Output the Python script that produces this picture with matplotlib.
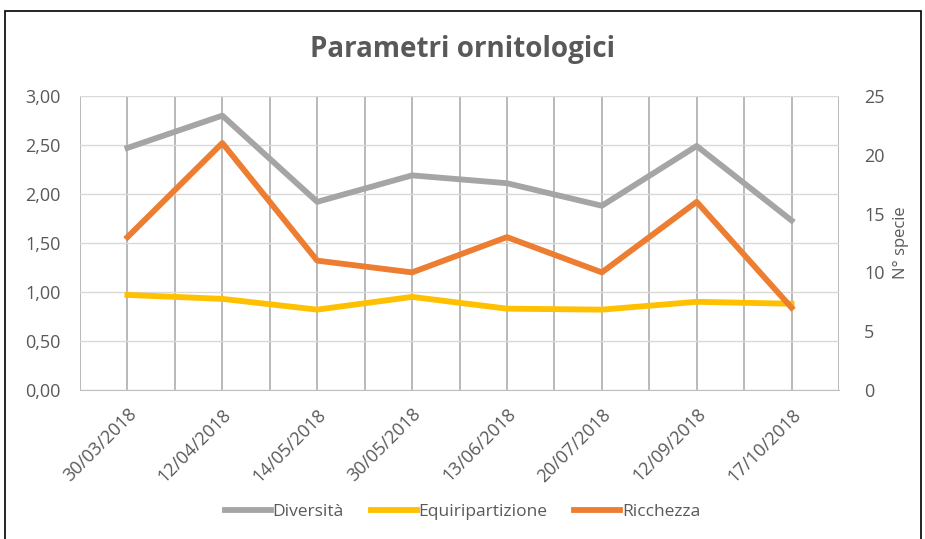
import matplotlib.pyplot as plt
from matplotlib.patches import Rectangle
from matplotlib.ticker import FuncFormatter

dates = ["30/03/2018", "12/04/2018", "14/05/2018", "30/05/2018",
         "13/06/2018", "20/07/2018", "12/09/2018", "17/10/2018"]
diversita = [2.47, 2.80, 1.92, 2.19, 2.11, 1.88, 2.49, 1.73]
equiripartizione = [0.97, 0.93, 0.82, 0.95, 0.83, 0.82, 0.90, 0.88]
ricchezza = [13, 21, 11, 10, 13, 10, 16, 7]

plt.rcParams['font.family'] = ['Open Sans', 'DejaVu Sans']
txt = '#595959'

fig = plt.figure(figsize=(9.25, 5.39), dpi=100)
ax = fig.add_axes([80 / 925, 1 - 390 / 539, (839 - 80) / 925, (390 - 96) / 539])
ax2 = ax.twinx()

x = list(range(len(dates)))
l1, = ax.plot(x, diversita, color='#A5A5A5', lw=4.2, label='Diversità')
l2, = ax.plot(x, equiripartizione, color='#FFC000', lw=4.2, label='Equiripartizione')
l3, = ax2.plot(x, ricchezza, color='#ED7D31', lw=4.2, label='Ricchezza')

ax.set_xlim(-0.5, len(dates) - 0.5)
ax.set_ylim(0, 3)
ax2.set_ylim(0, 25)
ax.set_yticks([0, 0.5, 1, 1.5, 2, 2.5, 3])
ax.yaxis.set_major_formatter(FuncFormatter(lambda v, p: f"{v:.2f}".replace('.', ',')))
ax2.set_yticks(range(0, 26, 5))

# gridlines: light horizontal, darker vertical every half category
ax.grid(axis='y', color='#D9D9D9', lw=1)
for v in [i * 0.5 - 0.5 for i in range(2 * len(dates) + 1)]:
    ax.axvline(v, color='#A6A6A6', lw=1.1, zorder=0.5)
ax.set_axisbelow(True)

ax.set_xticks(x)
ax.set_xticklabels(dates, rotation=45, ha='right', rotation_mode='anchor', color=txt, fontsize=13)
ax.tick_params(axis='x', length=0, pad=11)
ax.tick_params(axis='y', length=0, labelcolor=txt, labelsize=13, pad=14)
ax2.tick_params(axis='y', length=0, labelcolor=txt, labelsize=13, pad=18)
ax2.set_ylabel("N° specie", color=txt, fontsize=12, labelpad=6)

for a in (ax, ax2):
    for s in a.spines.values():
        s.set_visible(False)
ax.spines['bottom'].set_visible(True)
ax.spines['bottom'].set_color('#BFBFBF')

fig.text(0.50, 1 - 50 / 539, "Parametri ornitologici", ha='center', va='center',
         fontsize=20, fontweight='bold', color=txt)

fig.legend(handles=[l1, l2, l3], loc='center', bbox_to_anchor=(0.5, 1 - 512 / 539),
           ncol=3, frameon=False, fontsize=12.5, labelcolor=txt, handlelength=2.65,
           handletextpad=0.1, columnspacing=1.55)

fig.patches.append(Rectangle((5 / 925, -0.01), (921 - 5) / 925, 1 - 11 / 539 + 0.01,
                             transform=fig.transFigure, fill=False, edgecolor='black', lw=1.2))

fig.savefig("out.png", dpi=100)
